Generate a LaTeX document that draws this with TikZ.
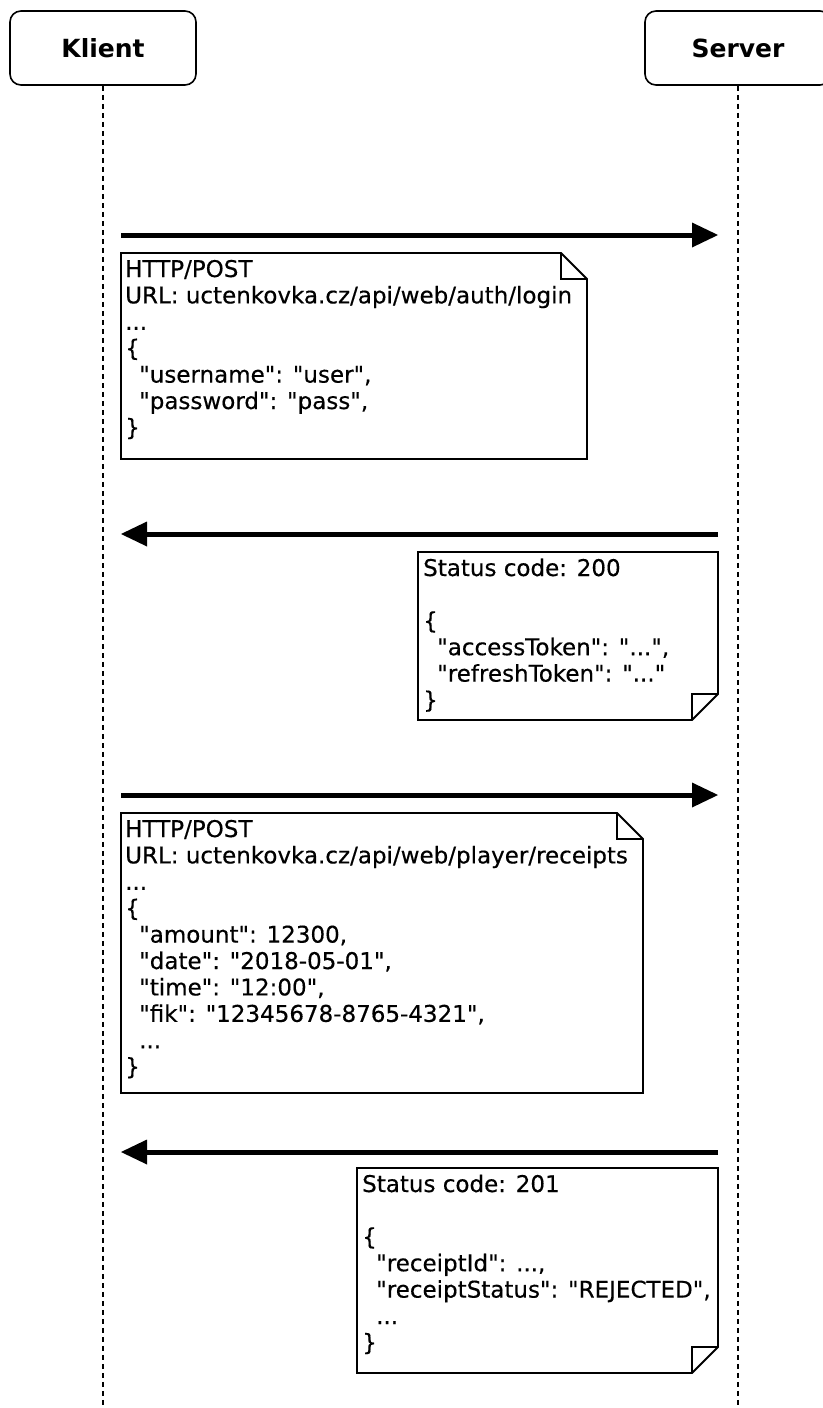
\documentclass[tikz,border=0pt]{standalone}
\usepackage{fontspec}
\setmainfont{DejaVu Sans}[Ligatures=TeXOff]
\newfontfamily\notefont{DejaVu Sans}[Ligatures=TeXOff, FakeBold=0.4]
\usetikzlibrary{arrows.meta}
\newcommand\jind{\hspace*{14pt}}
\begin{document}
\begin{tikzpicture}[x=1pt,y=-1pt,
 actor/.style={draw, line width=1.6pt, rounded corners=11pt, minimum width=186pt, minimum height=74pt, inner sep=0pt, font=\fontsize{25}{30}\selectfont\bfseries, fill=white},
 lifeline/.style={line width=1.6pt, dash pattern=on 5pt off 4pt},
 msg/.style={line width=5pt, -{Triangle[length=26pt,width=25pt,line width=0pt]}},
 notebox/.style={draw, line width=1.9pt, fill=white, line join=miter},
 notefold/.style={line width=1.9pt},
 notetext/.style={anchor=base west, inner sep=0pt, align=left, font=\notefont\fontsize{23}{26.4}\selectfont}
]
\useasboundingbox (0,0) rectangle (822,1408);
\fill[white] (0,0) rectangle (822,1408);
% actors
\node[actor] (klient) at (103,48) {Klient};
\node[actor] (server) at (738,48) {Server};
\coordinate (kend) at (103,1408);
\coordinate (send) at (738,1408);
\draw[lifeline] (klient.south) -- (kend);
\draw[lifeline] (server.south) -- (send);
% message 1
\coordinate (m1s) at (121,235);
\coordinate (m1e) at (718,235);
\draw[msg] (m1s) -- (m1e);
\draw[notebox] (121,253) -- (561,253) -- (587,279) -- (587,459) -- (121,459) -- cycle;
\draw[notefold] (561,253) -- (561,279) -- (587,279);
\node[notetext] (n1) at (125,435.4) {HTTP/POST\\
URL: uctenkovka.cz/api/web/auth/login\\
...\\
\{\\
\jind"username": "user",\\
\jind"password": "pass",\\
\}};
% message 2
\coordinate (m2s) at (718,534);
\coordinate (m2e) at (121,534);
\draw[msg] (m2s) -- (m2e);
\draw[notebox] (418,552) -- (718,552) -- (718,694) -- (692,720) -- (418,720) -- cycle;
\draw[notefold] (692,720) -- (692,694) -- (718,694);
\node[notetext] (n2) at (423,708) {Status code: 200\\
\mbox{}\\
\{\\
\jind"accessToken": "...",\\
\jind"refreshToken": "..."\\
\}};
% message 3
\coordinate (m3s) at (121,795);
\coordinate (m3e) at (718,795);
\draw[msg] (m3s) -- (m3e);
\draw[notebox] (121,813) -- (617,813) -- (643,839) -- (643,1093) -- (121,1093) -- cycle;
\draw[notefold] (617,813) -- (617,839) -- (643,839);
\node[notetext] (n3) at (125,1074.6) {HTTP/POST\\
URL: uctenkovka.cz/api/web/player/receipts\\
...\\
\{\\
\jind"amount": 12300,\\
\jind"date": "2018-05-01",\\
\jind"time": "12:00",\\
\jind"fik": "12345678-8765-4321",\\
\jind...\\
\}};
% message 4
\coordinate (m4s) at (718,1152);
\coordinate (m4e) at (121,1152);
\draw[msg] (m4s) -- (m4e);
\draw[notebox] (357,1168) -- (718,1168) -- (718,1347) -- (692,1373) -- (357,1373) -- cycle;
\draw[notefold] (692,1373) -- (692,1347) -- (718,1347);
\node[notetext] (n4) at (362,1350.4) {Status code: 201\\
\mbox{}\\
\{\\
\jind"receiptId": ...,\\
\jind"receiptStatus": "REJECTED",\\
\jind...\\
\}};
\end{tikzpicture}
\end{document}
